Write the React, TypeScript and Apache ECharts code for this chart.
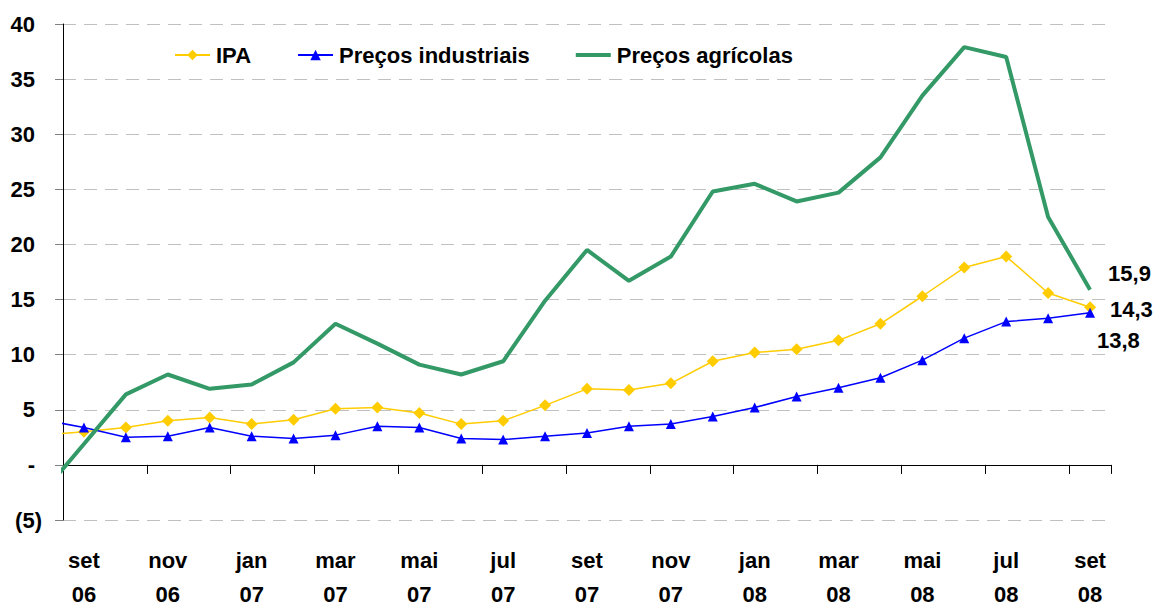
import React, { useEffect, useRef } from 'react';
import * as echarts from 'echarts';

// Month categories shown on the axis (set 06 .. set 08)
const categories = [
  'set 06', 'out 06', 'nov 06', 'dez 06', 'jan 07', 'fev 07', 'mar 07', 'abr 07', 'mai 07',
  'jun 07', 'jul 07', 'ago 07', 'set 07', 'out 07', 'nov 07', 'dez 07', 'jan 08', 'fev 08',
  'mar 08', 'abr 08', 'mai 08', 'jun 08', 'jul 08', 'ago 08', 'set 08',
];

// Series values: the first value belongs to ago 06 (only partly visible at the left edge)
const ipa = [2.7, 3.0, 3.4, 4.0, 4.3, 3.7, 4.1, 5.1, 5.2, 4.7, 3.7, 4.0, 5.4, 6.9, 6.8, 7.4, 9.4, 10.2, 10.5, 11.3, 12.8, 15.3, 17.9, 18.9, 15.6, 14.3];
const industriais = [4.1, 3.4, 2.5, 2.6, 3.4, 2.6, 2.4, 2.7, 3.5, 3.4, 2.4, 2.3, 2.6, 2.9, 3.5, 3.7, 4.4, 5.2, 6.2, 7.0, 7.9, 9.5, 11.5, 13.0, 13.3, 13.8];
const agricolas = [-2.6, 1.9, 6.4, 8.2, 6.9, 7.3, 9.3, 12.8, 11.0, 9.1, 8.2, 9.4, 14.9, 19.5, 16.7, 18.9, 24.8, 25.5, 23.9, 24.7, 27.9, 33.5, 37.9, 37.0, 22.5, 15.9];

const seriesNames = ['IPA', 'Preços industriais', 'Preços agrícolas'];
const yMin = -5;
const yMax = 40;
const yStep = 5;

const FONT = "'Liberation Sans', Arial, sans-serif";

const fmt = (v: number) => v.toFixed(1).replace('.', ',');

function build(values: number[], endLabel: any) {
  const last = values.length - 1;
  return values.map((v, i) => {
    const pt = [i - 1, v];
    if (i === last) {
      return { value: pt, label: { show: true, ...endLabel, formatter: () => fmt(v) } };
    }
    return pt;
  });
}

export default function App() {
  const ref = useRef<HTMLDivElement>(null);

  useEffect(() => {
    if (!ref.current) return;
    const chart = echarts.init(ref.current, undefined, { renderer: 'svg' });
    const labelText = {
      fontFamily: FONT,
      fontSize: 22,
      fontWeight: 'bold' as const,
      color: '#000',
    };
    chart.setOption({
      animation: false,
      backgroundColor: '#fff',
      grid: {
        left: 63,
        right: 44,
        top: 24,
        bottom: 85,
        containLabel: false,
        outerBoundsMode: 'none',
      },
      legend: {
        left: 169,
        top: 39,
        itemWidth: 35,
        itemHeight: 13,
        itemGap: 46,
        selectedMode: false,
        textStyle: { ...labelText, padding: [0, 0, 0, 1] },
        data: [
          seriesNames[0],
          seriesNames[1],
          { name: seriesNames[2], icon: 'path://M0,0h35v4h-35z', itemStyle: { borderWidth: 0 } },
        ],
      },
      xAxis: [
        {
          type: 'category',
          data: categories,
          boundaryGap: true,
          position: 'bottom',
          axisLine: { show: true, onZero: true, lineStyle: { color: '#000', width: 1 } },
          axisTick: { show: true, interval: 1, length: 9, lineStyle: { color: '#000' } },
          axisLabel: {
            ...labelText,
            interval: 1,
            margin: 23,
            lineHeight: 34,
            formatter: (v: string) => v.replace(' ', '\n'),
          },
          splitLine: { show: false },
        },
        {
          type: 'value',
          min: -0.5,
          max: categories.length - 0.5,
          show: false,
          position: 'top',
          axisLine: { onZero: false },
        },
      ],
      yAxis: {
        type: 'value',
        min: yMin,
        max: yMax,
        interval: yStep,
        axisLine: { show: true, onZero: false, lineStyle: { color: '#000', width: 1 } },
        axisTick: { show: true, length: 8, lineStyle: { color: '#808080' } },
        axisLabel: {
          ...labelText,
          margin: 21,
          formatter: (v: number) =>
            v < 0 ? `{n|(${-v})}` : `{n|${v === 0 ? '-' : v}}{s| }`,
          rich: {
            n: { ...labelText },
            s: { ...labelText, width: 7 },
          },
        },
        splitLine: { show: true, lineStyle: { color: '#C0C0C0', width: 1, type: [13, 8] } },
      },
      series: [
        {
          name: seriesNames[0],
          type: 'line',
          xAxisIndex: 1,
          data: build(ipa, { position: 'right', offset: [9, 2], ...labelText }),
          symbol: 'diamond',
          symbolSize: 12,
          showAllSymbol: true,
          clip: true,
          color: '#FFCC00',
          itemStyle: { color: '#FFCC00' },
          lineStyle: { color: '#FFCC00', width: 1.5 },
          z: 3,
        },
        {
          name: seriesNames[1],
          type: 'line',
          xAxisIndex: 1,
          data: build(industriais, { position: 'right', offset: [-3, 28], ...labelText }),
          symbol: 'triangle',
          symbolSize: 10,
          showAllSymbol: true,
          clip: true,
          color: '#0000FF',
          itemStyle: { color: '#0000FF' },
          lineStyle: { color: '#0000FF', width: 1.5 },
          z: 4,
        },
        {
          name: seriesNames[2],
          type: 'line',
          xAxisIndex: 1,
          data: build(agricolas, { position: 'right', offset: [13, -16], ...labelText }),
          symbol: 'circle',
          symbolSize: 0.01,
          showSymbol: true,
          showAllSymbol: true,
          clip: true,
          color: '#339966',
          itemStyle: { color: '#339966', opacity: 1 },
          lineStyle: { color: '#339966', width: 4 },
          z: 5,
        },
      ],
    });
    return () => chart.dispose();
  }, []);

  return (
    <div
      ref={ref}
      style={{ position: 'fixed', left: 0, top: 0, width: 1155, height: 605, background: '#fff' }}
    />
  );
}
